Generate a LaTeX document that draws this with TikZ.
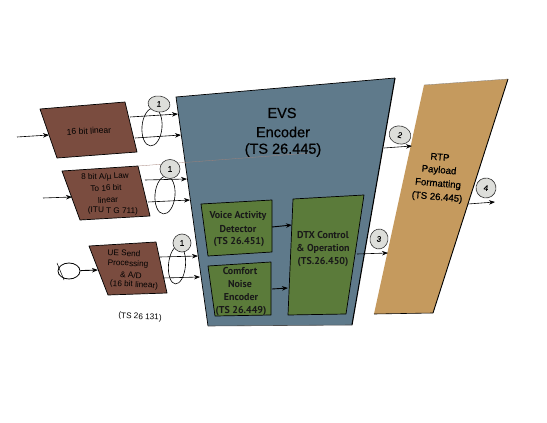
\documentclass[tikz,border=0pt]{standalone}
\usepackage{fontspec}
\setmainfont{Liberation Sans}
\newfontfamily\semifont[FakeBold=0.6]{Liberation Sans}
\newfontfamily\greenfont{PT Sans}
\usetikzlibrary{shapes.geometric,arrows.meta}
\definecolor{encblue}{HTML}{5F7A8B}
\definecolor{brownbox}{HTML}{7A4C3F}
\definecolor{greenbox}{HTML}{5B7B3A}
\definecolor{tanbox}{HTML}{C59A5E}
\definecolor{tagfill}{HTML}{DDDEDA}
\tikzset{
  x=1pt,y=-1pt,
  conn/.style={draw=black,line width=0.6pt,-{Stealth[length=6pt,width=4.5pt]}},
  polybrown/.style={fill=brownbox,draw=black,line width=0.7pt,line join=round},
  polygreen/.style={fill=greenbox,draw=black,line width=0.7pt,line join=round},
  bundle/.style={draw=black,line width=0.6pt,ellipse,inner sep=0pt,fill=none},
  tag/.style={draw=black!80,line width=0.6pt,ellipse,fill=tagfill,inner sep=0pt,font=\semifont\fontsize{8}{9}\selectfont},
  brownlabel/.style={font=\fontsize{8.2}{9}\selectfont,inner sep=0pt},
  greenlabel/.style={font=\greenfont\fontsize{10}{11}\selectfont\bfseries,inner sep=0pt,text=black!90},
  rtplabel/.style={font=\semifont\fontsize{9.6}{10}\selectfont,inner sep=0pt,rotate=-5},
  evslabel/.style={font=\semifont\fontsize{14.5}{16}\selectfont,inner sep=0pt},
}
\begin{document}
\begin{tikzpicture}
\useasboundingbox (0,0) rectangle (547,423);
\fill[white] (0,0) rectangle (547,423);
% brown boxes
\draw[polybrown] (40,109) -- (125,102) -- (137,152) -- (57,158) -- cycle;
\draw[polybrown] (62,171) -- (138,166) -- (150,216) -- (80,220) -- cycle;
\draw[polybrown] (89,246) -- (156,242) -- (167,293) -- (108,295) -- cycle;
% encoder
\fill[encblue] (176,97) -- (395,78) -- (352,325) -- (208,326) -- cycle;
\draw[black,line width=0.7pt] (208,326) -- (176,97) -- (395,78);
\draw[black,line width=1.1pt] (395,78) -- (352,325);
\draw[black!70,line width=0.6pt] (208,326) -- (352,325);
\draw[brownbox!70,line width=0.3pt] (138,166) -- (310,153);
% green boxes
\draw[polygreen] (201,204) -- (272,200) -- (272,252) -- (208,256) -- cycle;
\draw[polygreen] (208,266) -- (271,262) -- (271,315) -- (215,316) -- cycle;
\draw[polygreen] (293,199) -- (364,195) -- (346,314) -- (288,315) -- cycle;
% RTP
\fill[tanbox] (424,85) -- (508,79) -- (433,313) -- (374,314) -- cycle;
\draw[black,line width=0.9pt] (508,79) -- (433,313);
\draw[black,line width=0.6pt] (433,313) -- (374,314);
\draw[black!50,line width=0.3pt] (424,85) -- (508,79);
% microphone
\node[draw=black,line width=0.8pt,ellipse,minimum width=22pt,minimum height=16pt,inner sep=0pt] (mic) at (69,271) {};
\coordinate (micA) at (57,263);
\coordinate (micB) at (64,280);
\draw[line width=0.5pt] (micA) -- (micB);
% bundle ellipses
\node[bundle,minimum width=20pt,minimum height=38pt,rotate=-5] (e1) at (152,127) {};
\node[bundle,minimum width=20pt,minimum height=38pt,rotate=-5] (e2) at (165,195) {};
\node[bundle,minimum width=17pt,minimum height=38pt,rotate=-5] (e3) at (177,265) {};
% free ends
\coordinate (i1) at (17,137); \coordinate (i1e) at (49,135);
\coordinate (o1a) at (130,117); \coordinate (o1ae) at (178,114);
\coordinate (o1b) at (135,138); \coordinate (o1be) at (181,135);
\coordinate (i2) at (43,198); \coordinate (i2e) at (72,197);
\coordinate (o2a) at (145,180); \coordinate (o2ae) at (187,179);
\coordinate (o2b) at (148,202); \coordinate (o2be) at (190,200);
\coordinate (o3a) at (160,257); \coordinate (o3ae) at (198,256);
\coordinate (o3b) at (163,278); \coordinate (o3be) at (200,277);
\coordinate (mice) at (98,270);
\coordinate (v1) at (272,227); \coordinate (v1e) at (292,225);
\coordinate (c1) at (272,289); \coordinate (c1e) at (288,288);
\coordinate (d1) at (357,254); \coordinate (d1e) at (388,253);
\coordinate (t1) at (384,148); \coordinate (t1e) at (412,146);
\coordinate (r1) at (468,204); \coordinate (r1e) at (495,202);
\draw[conn] (i1) -- (i1e);
\draw[conn] (o1a) -- (o1ae);
\draw[conn] (o1b) -- (o1be);
\draw[conn] (i2) -- (i2e);
\draw[conn] (o2a) -- (o2ae);
\draw[conn] (o2b) -- (o2be);
\draw[conn] (o3a) -- (o3ae);
\draw[conn] (o3b) -- (o3be);
\draw[conn,line width=0.9pt] (mic) -- (mice);
\draw[conn,line width=0.9pt] (v1) -- (v1e);
\draw[conn,line width=0.9pt] (c1) -- (c1e);
\draw[conn] (d1) -- (d1e);
\draw[conn] (t1) -- (t1e);
\draw[conn] (r1) -- (r1e);
% tags
\node[tag,minimum width=22pt,minimum height=16pt,rotate=-8] (tag1a) at (159,104) {1};
\node[tag,minimum width=20pt,minimum height=19pt] (tag1b) at (170,169) {1};
\node[tag,minimum width=18pt,minimum height=18pt] (tag1c) at (182,243) {1};
\node[tag,minimum width=22pt,minimum height=18pt,rotate=-15] (tag2) at (400,135) {2};
\node[tag,minimum width=18pt,minimum height=20pt,rotate=-10] (tag3) at (379,239) {3};
\node[tag,minimum width=20pt,minimum height=20pt,rotate=-10] (tag4) at (486,188) {4};
% brown labels
\node[brownlabel,rotate=3,font=\fontsize{8.6}{9}\selectfont] (l1) at (89,131) {16 bit linear};
\node[brownlabel,rotate=2] (l2a) at (105,177) {8 bit A/µ Law};
\node[brownlabel,rotate=2] (l2b) at (106,188) {To 16 bit};
\node[brownlabel,rotate=2] (l2c) at (108,200) {linear};
\node[brownlabel,rotate=-1] (l2d) at (113,211) {(ITU T G 711)};
\node[brownlabel,rotate=-3] (l3a) at (124,253) {UE Send};
\node[brownlabel,rotate=-3] (l3b) at (128,264) {Processing};
\node[brownlabel,rotate=-3] (l3c) at (131,275) {\& A/D};
\node[brownlabel,rotate=-3] (l3d) at (134,285) {(16 bit linear)};
\node[brownlabel,rotate=-3] (l3e) at (140,317) {(TS 26 131)};
% encoder labels
\node[evslabel] (ev1) at (282,113) {EVS};
\node[evslabel] (ev2) at (283,132) {Encoder};
\node[evslabel] (ev3) at (283,150) {(TS 26.445)};
% green labels
\node[greenlabel] (g1) at (238,216) {Voice Activity};
\node[greenlabel] (g2) at (238,229) {Detector};
\node[greenlabel] (g3) at (239,242) {(TS 26.451)};
\node[greenlabel] (g4) at (240,271) {Comfort};
\node[greenlabel] (g5) at (240,284) {Noise};
\node[greenlabel] (g6) at (241,297) {Encoder};
\node[greenlabel] (g7) at (241,311) {(TS 26.449)};
\node[greenlabel] (g8) at (323,235) {DTX Control};
\node[greenlabel] (g9) at (323,249) {\& Operation};
\node[greenlabel] (g10) at (323,262) {(TS.26.450)};
% RTP labels
\node[rtplabel] (r1l) at (440,157) {RTP};
\node[rtplabel] (r2l) at (439,170.5) {Payload};
\node[rtplabel] (r3l) at (438,184) {Formatting};
\node[rtplabel] (r4l) at (437,197.5) {(TS 26.445)};
\end{tikzpicture}
\end{document}
